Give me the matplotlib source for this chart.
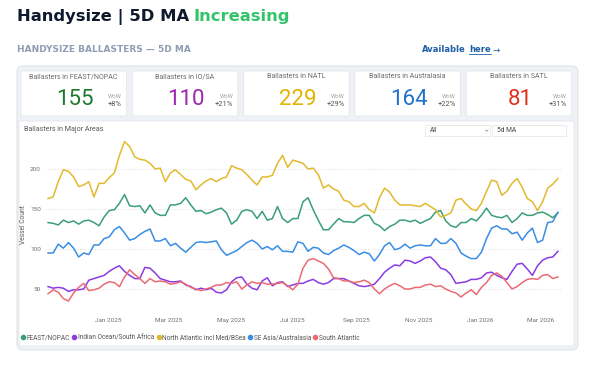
import matplotlib
matplotlib.use("Agg")
import matplotlib.pyplot as plt
import matplotlib.dates as mdates
from matplotlib.patches import FancyBboxPatch, Rectangle
from matplotlib.lines import Line2D
import pandas as pd

plt.rcParams['font.family'] = ['Roboto', 'DejaVu Sans']

W, H = 603, 367

# ================== data (5-day steps from start_date) ==================
start_date = "2024-11-03"

feast = [133, 132, 130, 136, 133, 135, 131, 135, 136, 133, 129, 140, 148, 149, 157, 168, 154, 153, 154, 145, 155,
         145, 142, 142, 155, 155, 157, 164, 155, 147, 148, 144, 146, 149, 151, 145, 131, 136, 147, 149, 147,
         138, 147, 136, 138, 153, 138, 133, 138, 138, 159, 164, 149, 136, 124, 124, 131, 138, 134, 134, 133, 138,
         142, 142, 132, 129, 123, 128, 131, 136, 136, 134, 136, 132, 135, 138, 146, 148, 135, 129, 127, 133,
         133, 138, 135, 142, 151, 142, 140, 139, 142, 133, 138, 145, 142, 142, 145, 146, 143, 139, 145]

io_sa = [53, 51, 52, 51, 47, 49, 49, 50, 61, 63, 65, 67, 72, 76, 79, 72, 67, 63, 63, 77, 76,
         70, 63, 61, 59, 59, 60, 55, 53, 49, 51, 49, 51, 46, 45, 49, 59, 64, 65, 56, 51,
         49, 60, 64, 54, 58, 59, 53, 55, 57, 57, 60, 62, 58, 56, 58, 63, 63, 63, 60, 57, 54,
         53, 54, 56, 63, 71, 76, 80, 79, 86, 85, 82, 85, 89, 90, 84, 76, 74, 68, 57, 58,
         59, 62, 62, 64, 70, 71, 67, 64, 62, 72, 81, 82, 75, 67, 79, 86, 89, 90, 97]

natl = [163, 165, 184, 199, 197, 190, 178, 180, 184, 165, 182, 182, 189, 195, 217, 234, 228, 215, 212, 211, 207,
        200, 201, 184, 195, 199, 193, 187, 185, 174, 180, 185, 188, 184, 188, 190, 204, 201, 199, 193, 186,
        180, 190, 190, 192, 207, 217, 202, 211, 209, 207, 200, 201, 193, 176, 180, 175, 172, 161, 159, 153, 153,
        157, 149, 145, 164, 176, 171, 161, 155, 155, 155, 154, 153, 157, 153, 149, 140, 142, 145, 161, 163,
        156, 150, 148, 157, 172, 186, 184, 167, 172, 182, 188, 177, 163, 159, 148, 159, 176, 181, 188]

se_asia = [95, 95, 106, 101, 108, 101, 90, 95, 93, 105, 105, 113, 115, 124, 128, 120, 111, 113, 118, 122, 125,
           110, 110, 113, 104, 107, 101, 96, 102, 108, 109, 108, 109, 110, 99, 92, 95, 98, 103, 108, 111,
           107, 100, 103, 99, 104, 97, 97, 96, 109, 107, 97, 102, 101, 95, 93, 98, 101, 105, 102, 98, 93,
           96, 94, 85, 93, 104, 108, 99, 101, 106, 101, 104, 105, 104, 104, 113, 107, 107, 113, 107, 95,
           91, 88, 88, 96, 113, 126, 129, 125, 125, 119, 121, 111, 120, 126, 108, 111, 133, 134, 146]

satl = [44, 49, 46, 38, 35, 45, 52, 57, 48, 49, 51, 56, 59, 58, 53, 65, 74, 68, 63, 57, 63,
        59, 60, 59, 56, 57, 59, 56, 52, 50, 48, 50, 52, 55, 55, 58, 57, 59, 50, 55, 59,
        57, 58, 56, 56, 57, 58, 54, 49, 56, 76, 86, 88, 85, 82, 75, 64, 63, 60, 60, 58, 59,
        61, 58, 50, 44, 50, 54, 57, 54, 50, 50, 52, 52, 55, 56, 53, 54, 50, 47, 45, 40,
        45, 49, 43, 52, 58, 67, 70, 66, 58, 50, 53, 58, 62, 63, 62, 67, 68, 63, 65]

series_names = ["FEAST/NOPAC", "Indian Ocean/South Africa", "North Atlantic incl Med/BSea",
                "SE Asia/Australasia", "South Atlantic"]
series_values = [feast, io_sa, natl, se_asia, satl]
series_colors = ["#3a9e77", "#8a3be6", "#e3b92e", "#3a8de3", "#ec6a73"]

kpi_titles = ["Ballasters in FEAST/NOPAC", "Ballasters in IO/SA", "Ballasters in NATL",
              "Ballasters in Australasia", "Ballasters in SATL"]
kpi_values = [155, 110, 229, 164, 81]
kpi_wow = ["+8%", "+21%", "+29%", "+22%", "+31%"]
kpi_colors = ["#1f7a30", "#9a27ae", "#e2b400", "#1e72cf", "#e5301c"]

x_ticks = ["2025-01-01", "2025-03-01", "2025-05-01", "2025-07-01",
           "2025-09-01", "2025-11-01", "2026-01-01", "2026-03-01"]
y_ticks = [50, 100, 150, 200]

# ================== figure / pixel-space background ==================
fig = plt.figure(figsize=(W / 100, H / 100), dpi=100, facecolor='white')
bg = fig.add_axes([0, 0, 1, 1])
bg.set_xlim(0, W)
bg.set_ylim(H, 0)
bg.axis('off')


def rbox(x0, y0, x1, y1, fc, ec, r=3, lw=0.8):
    bg.add_patch(FancyBboxPatch((x0, y0), x1 - x0, y1 - y0,
                                boxstyle=f"round,pad=0,rounding_size={r}",
                                fc=fc, ec=ec, lw=lw))


# title
t1 = bg.text(17, 17, "Handysize | 5D MA", fontsize=11.8, fontweight='bold',
             color='#0e1a2b', va='center', ha='left', family='DejaVu Sans')
bg.annotate("Increasing", xy=(1, 0.5), xycoords=t1, xytext=(3.3, 0), textcoords='offset points',
            fontsize=11.8, fontweight='bold', color='#33c46a', va='center', ha='left',
            family='DejaVu Sans')

bg.text(17, 50, "HANDYSIZE BALLASTERS \u2014 5D MA", fontsize=6.5, fontweight='bold',
        color='#8e9db4', va='center', ha='left', family='DejaVu Sans')

link_c = '#1d5fa6'
t_arrow = bg.text(500, 50, "\u2192", fontsize=6.2, color=link_c, va='center', ha='right',
                  family='DejaVu Sans')
t_here = bg.annotate("here", xy=(0, 0.5), xycoords=t_arrow, xytext=(-1.5, 0),
                     textcoords='offset points', fontsize=6.0, fontweight='bold',
                     color=link_c, va='center', ha='right', family='DejaVu Sans')
t_avail = bg.annotate("Available", xy=(0, 0.5), xycoords=t_here, xytext=(-2, 0),
                      textcoords='offset points', fontsize=6.0, fontweight='bold',
                      color=link_c, va='center', ha='right', family='DejaVu Sans')

# outer panel + KPI cards
rbox(17, 66, 578, 350, fc='#eef1f5', ec='#dfe4ea', r=6)
for i in range(5):
    x0 = 21 + i * 111.3
    rbox(x0, 71, x0 + 105.5, 116, fc='white', ec='#e4e8ed', r=2, lw=0.6)
    bg.text(x0 + 52.7, 77, kpi_titles[i], fontsize=5.1, color='#6b6b6b', ha='center', va='center')
    bg.text(x0 + 54, 99.5, str(kpi_values[i]), fontsize=16, color=kpi_colors[i],
            ha='center', va='center')
    bg.text(x0 + 101, 96, "WoW", fontsize=4.2, color='#a0a0a0', ha='right', va='center')
    bg.text(x0 + 101, 105, kpi_wow[i], fontsize=5.4, color='#555555', ha='right', va='center')

# chart card
rbox(19, 121, 574, 346, fc='white', ec='#e3e7ec', r=2, lw=0.6)
bg.text(24, 129.5, "Ballasters in Major Areas", fontsize=5.1, color='#5a5a5a', ha='left', va='center')
bg.add_patch(Rectangle((425, 125), 65, 11, fc='white', ec='#e3e3e3', lw=0.5))
bg.add_patch(Rectangle((492, 125), 74, 11, fc='white', ec='#e3e3e3', lw=0.5))
bg.text(430, 130.5, "All", fontsize=4.8, color='#444444', ha='left', va='center')
bg.text(497, 130.5, "5d MA", fontsize=4.8, color='#444444', ha='left', va='center')
bg.plot([485.5, 486.8, 488.1], [130, 131.3, 130], color='#888888', lw=0.5)

# ================== line chart ==================
ax = fig.add_axes([45 / W, (H - 310) / H, 518 / W, (310 - 138.5) / H])
ax.patch.set_alpha(0)
dates = pd.date_range(start_date, periods=len(feast), freq='5D')
for name, vals, c in zip(series_names, series_values, series_colors):
    ax.plot(dates, vals, color=c, lw=1.1, solid_joinstyle='round', label=name)

ax.set_xlim(pd.Timestamp("2024-10-31"), pd.Timestamp("2026-03-23"))
ax.set_ylim(23.75, 238)
ax.set_yticks(y_ticks)
ax.set_xticks(pd.to_datetime(x_ticks))
ax.xaxis.set_major_formatter(mdates.DateFormatter('%b %Y'))
ax.tick_params(axis='both', length=0, labelsize=4.6, labelcolor='#707070')
ax.tick_params(axis='x', pad=6)
ax.tick_params(axis='y', pad=3)
for s in ax.spines.values():
    s.set_visible(False)
ax.yaxis.grid(True, linestyle=(0, (1, 2)), color='#d5d5d5', lw=0.6)
ax.set_ylabel("Vessel Count", fontsize=4.8, color='#555555')
ax.yaxis.set_label_coords(-0.035, 0.5)

handles = [Line2D([], [], marker='o', ls='', color=c, markersize=3.0) for c in series_colors]
bg.legend(handles, series_names, loc='center left', bbox_to_anchor=(21, 338),
          bbox_transform=bg.transData, ncol=5, frameon=False, fontsize=4.7,
          handletextpad=0.2, columnspacing=0.3, borderaxespad=0, borderpad=0,
          labelcolor='#555555', handlelength=0.7)

# underline "here"
fig.canvas.draw()
bb = t_here.get_window_extent()
inv = bg.transData.inverted()
(ux0, uy0), (ux1, _) = inv.transform([(bb.x0, bb.y0), (bb.x1, bb.y0)])
bg.plot([ux0, ux1], [uy0 - 0.5, uy0 - 0.5], color=link_c, lw=0.6)

fig.savefig("out.png", dpi=100, facecolor='white')
